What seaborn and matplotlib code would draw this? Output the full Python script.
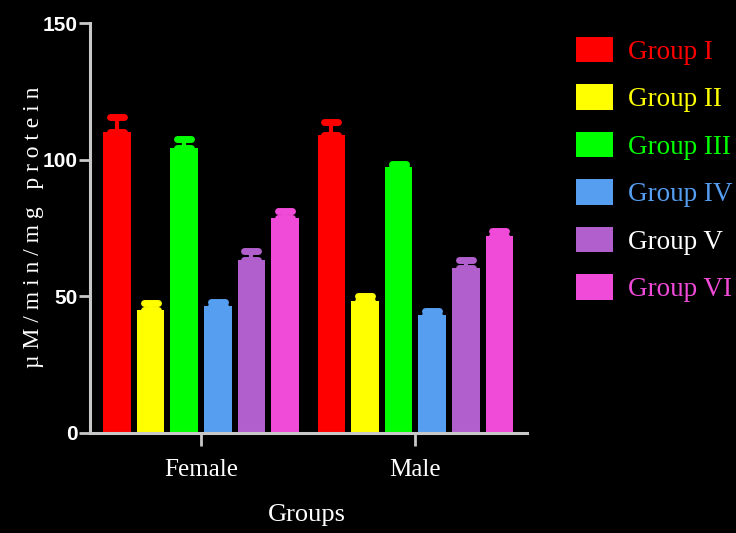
import numpy as np
import pandas as pd
import matplotlib
matplotlib.use("Agg")
import matplotlib.pyplot as plt
from matplotlib.markers import MarkerStyle
import seaborn as sns

# Enzyme activity (µM/min/mg protein), mean and SEM per treatment group
sexes = ["Female", "Male"]
groups = ["Group I", "Group II", "Group III", "Group IV", "Group V", "Group VI"]
female_mean = [110.1, 44.8, 104.3, 46.4, 63.2, 78.7]
male_mean = [109.0, 48.2, 97.4, 43.1, 60.4, 72.1]
female_sem = [5.5, 2.5, 3.2, 1.6, 3.5, 2.6]
male_sem = [4.6, 2.0, 1.0, 1.6, 3.0, 1.7]
yticks = [0, 50, 100, 150]

bar_colors = ["#ff0000", "#ffff00", "#00ff00", "#559ef0", "#b05fcc", "#f04ad8"]
label_colors = ["#ff0000", "#ffff00", "#00ff00", "#559ef0", "#ffffff", "#f04ad8"]

df = pd.DataFrame({
    "Sex": np.repeat(sexes, len(groups)),
    "Group": groups * len(sexes),
    "Value": female_mean + male_mean,
    "SEM": female_sem + male_sem,
})

sns.set_theme(style="dark", rc={"axes.facecolor": "black", "figure.facecolor": "black"})
serif = ["Liberation Serif", "DejaVu Serif"]
sans = ["Liberation Sans", "DejaVu Sans"]

fig = plt.figure(figsize=(7.36, 5.33), dpi=100, facecolor="black")
ax = fig.add_axes([90 / 736, 1 - 432.6 / 533, 437 / 736, 409.5 / 533])
ax.set_facecolor("black")

sns.barplot(data=df, x="Sex", y="Value", hue="Group", hue_order=groups,
            order=sexes, palette=bar_colors, saturation=1, width=0.94,
            gap=0.18, errorbar=None, linewidth=0, ax=ax, legend=True)

# one-sided SEM bars in the colour of each group
cap_marker = MarkerStyle("_", capstyle="round")
for cont, col, grp in zip(ax.containers, bar_colors, groups):
    sub = df[df["Group"] == grp].set_index("Sex").loc[sexes]
    xs = [b.get_x() + b.get_width() / 2 for b in cont]
    ys = sub["Value"].to_numpy()
    errs = sub["SEM"].to_numpy()
    _, caps, _ = ax.errorbar(xs, ys, yerr=[np.zeros_like(errs), errs], fmt="none",
                             ecolor=col, elinewidth=3, capsize=5, capthick=5,
                             zorder=1)
    for c in caps:
        c.set_marker(cap_marker)

ax.set_ylim(0, 150)
ax.set_yticks(yticks)
ax.set_xlim(-0.5175, 1.52)

for side in ("top", "right"):
    ax.spines[side].set_visible(False)
for side in ("left", "bottom"):
    ax.spines[side].set_color("#c8c8c8")
    ax.spines[side].set_linewidth(2.2)

ax.tick_params(axis="y", colors="#c8c8c8", labelcolor="white", length=8,
               width=2, pad=1, left=True)
ax.tick_params(axis="x", colors="#c8c8c8", labelcolor="white", length=9,
               width=2, pad=10, bottom=True)
for lab in ax.get_yticklabels():
    lab.set_family(sans)
    lab.set_fontweight("bold")
    lab.set_fontsize(15)
for lab in ax.get_xticklabels():
    lab.set_family(serif)
    lab.set_fontsize(18)
ax.grid(False)

ax.set_ylabel("µ M / m i n / m g   p r o t e i n", family=serif, fontsize=17,
              color="white", va="center")
ax.yaxis.set_label_coords(-0.13, 0.502)
ax.set_xlabel("Groups", family=serif, fontsize=19, color="white", va="center")
ax.xaxis.set_label_coords(0.497, -0.2)

handles, labels = ax.get_legend_handles_labels()
ax.legend(handles, labels, loc="upper left",
          bbox_to_anchor=(576 / 736, 1 - 37 / 533), bbox_transform=fig.transFigure,
          frameon=False, labelcolor=label_colors,
          prop={"family": serif, "size": 19.5},
          handlelength=1.36, handleheight=1.07, labelspacing=0.72,
          handletextpad=0.55, borderpad=0, borderaxespad=0)

fig.savefig("out.png", dpi=100, facecolor="black")
